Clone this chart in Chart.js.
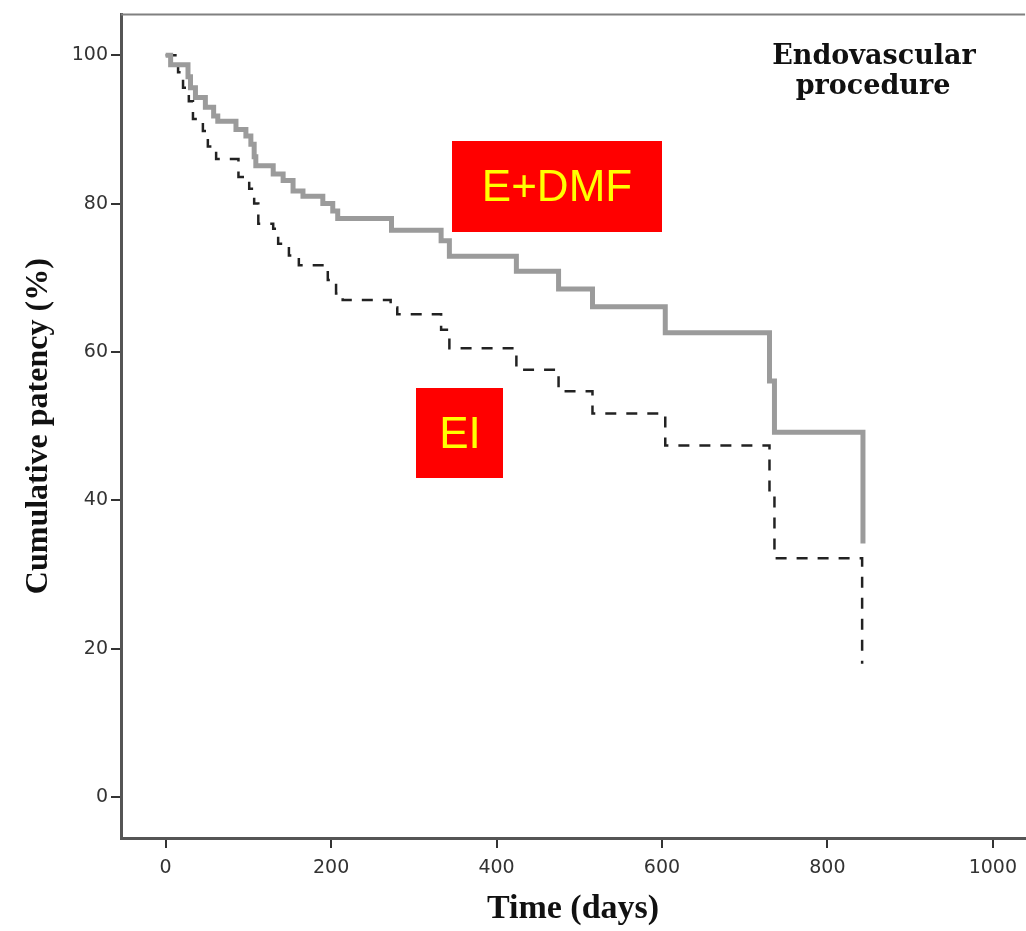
<!DOCTYPE html>
<html>
<head>
<meta charset="utf-8">
<script src="https://cdn.jsdelivr.net/npm/chart.js@4.4.1/dist/chart.umd.min.js"></script>
<style>
  html, body { margin: 0; padding: 0; background: #fff; }
</style>
</head>
<body>
<canvas id="myChart" width="1026" height="931"></canvas>
<script>
// Kaplan-Meier steps (day of event, patency % after it)
const dmfDays = [0, 6, 27, 30, 36, 48, 58, 63, 85, 97, 103, 107, 109, 130, 142, 154, 166, 190, 202, 208, 273, 333, 343, 424, 475, 516, 604, 730, 736, 843];
const dmfPatency = [100, 98.7, 97.1, 95.6, 94.3, 93.0, 91.8, 91.1, 90.0, 89.1, 88.0, 86.3, 85.1, 84.0, 83.1, 81.7, 81.0, 80.0, 79.0, 78.0, 76.4, 75.0, 72.9, 70.9, 68.5, 66.1, 62.6, 56.1, 49.2, 34.2];

const eiDays = [0, 15, 21, 28, 33, 45, 51, 61, 88, 101, 107, 112, 130, 136, 149, 161, 196, 206, 214, 272, 280, 333, 343, 424, 475, 516, 604, 730, 736, 842];
const eiPatency = [100, 97.7, 95.6, 93.8, 91.4, 89.8, 87.7, 86.0, 83.6, 82.0, 80.0, 77.3, 76.6, 74.6, 73.0, 71.7, 69.7, 67.9, 67.0, 66.0, 65.1, 63.0, 60.5, 57.6, 54.7, 51.7, 47.4, 40.7, 32.2, 18.0];

const xTicks = [0, 200, 400, 600, 800, 1000];
const yTicks = [0, 20, 40, 60, 80, 100];

function toPoints(days, vals) {
    return days.map((d, i) => ({ x: d, y: vals[i] }));
}

// red boxes and the panel caption
const notesPlugin = {
    id: 'notes',
    afterDraw(chart) {
        const ctx = chart.ctx;
        const area = chart.chartArea;
        ctx.save();
        ctx.strokeStyle = '#808080';
        ctx.lineWidth = 2;
        ctx.beginPath();
        ctx.moveTo(area.left, area.top);
        ctx.lineTo(area.right, area.top);
        ctx.stroke();

        ctx.fillStyle = '#ff0000';
        ctx.fillRect(452, 141, 210, 91);
        ctx.fillRect(416, 388, 87, 90);
        ctx.fillStyle = '#ffff00';
        ctx.font = '44px "Liberation Sans"';
        ctx.textAlign = 'center';
        ctx.textBaseline = 'middle';
        ctx.fillText('E+DMF', 557, 189);
        ctx.fillText('EI', 460, 436);

        ctx.fillStyle = '#111';
        ctx.font = 'bold 27px "DejaVu Serif"';
        ctx.textBaseline = 'alphabetic';
        ctx.fillText('Endovascular', 874, 64);
        ctx.fillText('procedure', 873, 94);
        ctx.restore();
    }
};

const config = {
    type: 'line',
    data: {
        datasets: [{
            label: 'E+DMF',
            data: toPoints(dmfDays, dmfPatency),
            stepped: 'before',
            borderColor: '#9b9b9b',
            borderWidth: 5,
            pointRadius: 0,
            fill: false
        }, {
            label: 'EI',
            data: toPoints(eiDays, eiPatency),
            stepped: 'before',
            borderColor: '#222',
            borderWidth: 2.5,
            borderDash: [11, 10],
            pointRadius: 0,
            fill: false
        }]
    },
    options: {
        responsive: false,
        animation: false,
        layout: { padding: { left: 20, top: 10, right: 0, bottom: 0 } },
        plugins: {
            legend: { display: false },
            tooltip: { enabled: false }
        },
        scales: {
            x: {
                type: 'linear',
                min: -54,
                max: 1039,
                afterBuildTicks: scale => { scale.ticks = xTicks.map(v => ({ value: v })); },
                afterFit: scale => { scale.height = 93; },
                border: { color: '#555', width: 3 },
                grid: { drawOnChartArea: false, tickLength: 10, color: '#333', lineWidth: 2 },
                ticks: {
                    color: '#333',
                    font: { family: 'DejaVu Sans', size: 19 },
                    padding: 9,
                    callback: value => String(value)
                },
                title: {
                    display: true,
                    text: 'Time (days)',
                    color: '#111',
                    font: { family: 'Liberation Serif', size: 34, weight: 'bold' },
                    padding: { top: 0, bottom: 1 }
                }
            },
            y: {
                min: -5.5,
                max: 105.5,
                afterBuildTicks: scale => { scale.ticks = yTicks.map(v => ({ value: v })); },
                afterFit: scale => { scale.width = 101; },
                border: { color: '#555', width: 3 },
                grid: { drawOnChartArea: false, tickLength: 10, color: '#333', lineWidth: 2 },
                ticks: { color: '#333', font: { family: 'DejaVu Sans', size: 19 }, padding: 3 },
                title: {
                    display: true,
                    text: 'Cumulative patency (%)',
                    color: '#111',
                    font: { family: 'Liberation Serif', size: 32, weight: 'bold' },
                    padding: { top: 0, bottom: 0 }
                }
            }
        }
    },
    plugins: [notesPlugin]
};

new Chart(document.getElementById('myChart'), config);
</script>
</body>
</html>
